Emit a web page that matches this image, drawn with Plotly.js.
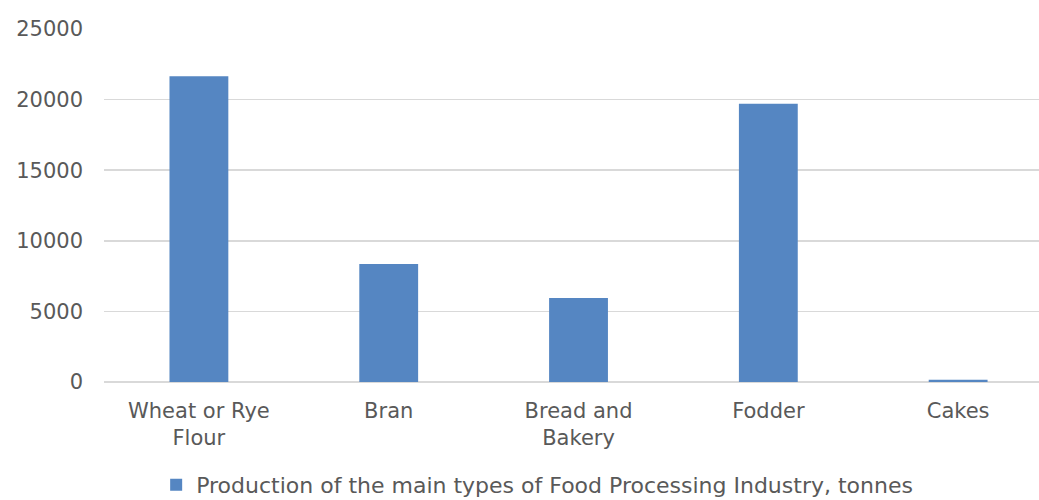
<!DOCTYPE html>
<html>
<head>
<meta charset="utf-8">
<script src="https://cdn.plot.ly/plotly-3.0.1.min.js"></script>
<style>
html,body{margin:0;padding:0;background:#fff;}
#chart{width:1039px;height:500px;}
</style>
</head>
<body>
<div id="chart"></div>
<script>
var categories = ["Wheat or Rye<br>Flour", "Bran", "Bread and<br>Bakery", "Fodder", "Cakes"];
var values = [21650, 8350, 5950, 19700, 160];
var seriesName = "Production of the main types of Food Processing Industry, tonnes";
var yTicks = [0, 5000, 10000, 15000, 20000, 25000];

var textColor = "#595959";
var fontFamily = "DejaVu Sans, sans-serif";

var trace = {
  type: "bar",
  x: categories,
  y: values,
  name: seriesName,
  marker: {color: "#5586c2"},
  showlegend: true
};

var layout = {
  width: 1039,
  height: 500,
  margin: {l: 104, r: 0, t: 29, b: 118, pad: 0, autoexpand: false},
  paper_bgcolor: "#ffffff",
  plot_bgcolor: "#ffffff",
  bargap: 0.69,
  font: {family: fontFamily, size: 21, color: textColor},
  xaxis: {
    type: "category",
    range: [-0.5, 4.426],
    showgrid: false,
    zeroline: false,
    showline: false,
    ticks: "",
    tickangle: 0,
    automargin: false,
    tickfont: {family: fontFamily, size: 21, color: textColor},
    ticklabelstandoff: 14
  },
  yaxis: {
    range: [0, 25000],
    tickvals: yTicks,
    ticktext: yTicks.map(String),
    automargin: false,
    showgrid: true,
    gridcolor: "#d9d9d9",
    gridwidth: 1.5,
    zeroline: true,
    zerolinecolor: "#d9d9d9",
    zerolinewidth: 1.5,
    showline: false,
    ticks: "",
    tickfont: {family: fontFamily, size: 21, color: textColor},
    ticklabelstandoff: 20
  },
  legend: {
    orientation: "h",
    xref: "container",
    yref: "container",
    x: 0.517,
    xanchor: "center",
    y: 0.03,
    yanchor: "middle",
    itemwidth: 30,
    font: {family: fontFamily, size: 22, color: textColor},
    bgcolor: "rgba(0,0,0,0)"
  }
};

Plotly.newPlot("chart", [trace], layout, {displayModeBar: false, staticPlot: true});
</script>
</body>
</html>
